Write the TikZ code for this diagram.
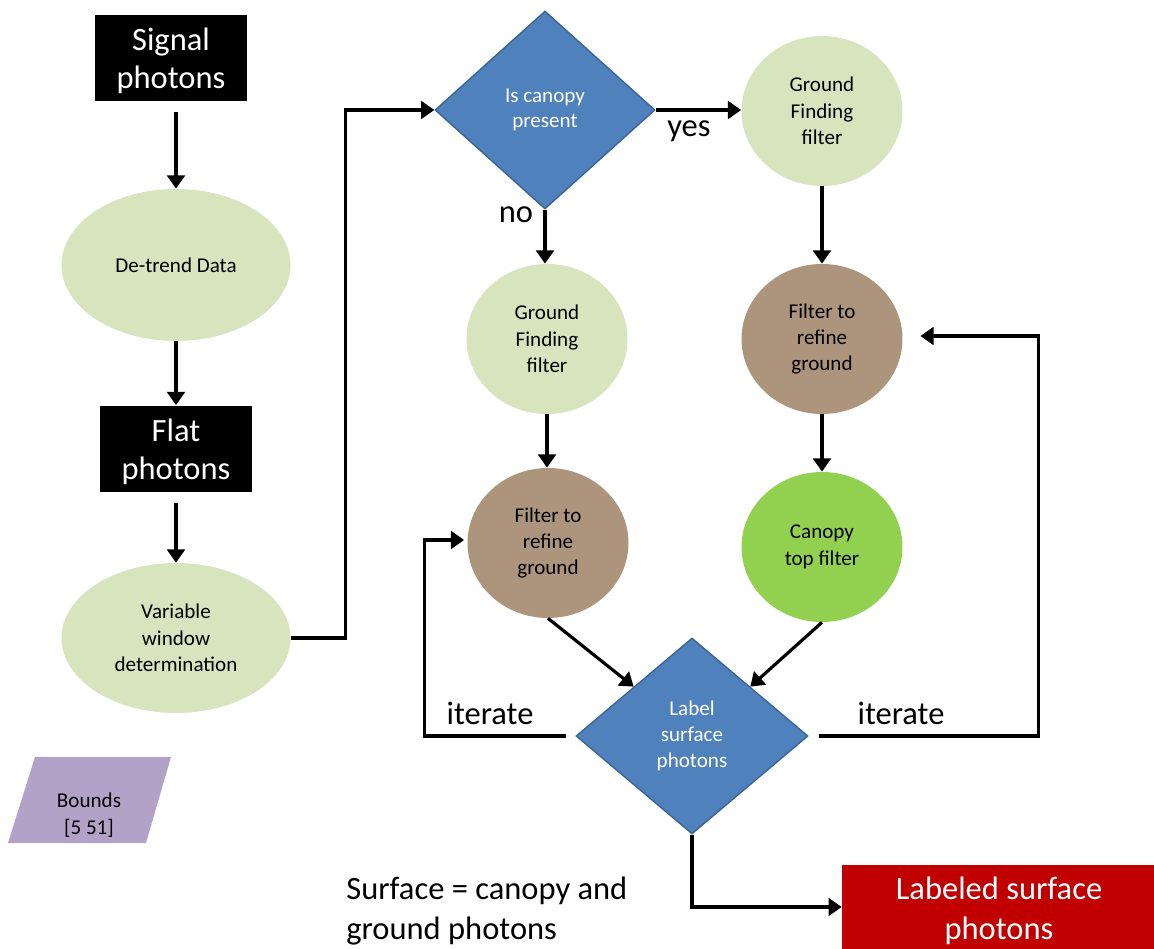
\documentclass[tikz,border=0pt]{standalone}
\usepackage{fontspec}
\setmainfont{Carlito}
\usetikzlibrary{shapes.geometric,arrows.meta,calc}
\definecolor{lgreen}{HTML}{D7E4BD}
\definecolor{tanbrown}{HTML}{AD957D}
\definecolor{bgreen}{HTML}{92D050}
\definecolor{dblue}{HTML}{4F81BD}
\definecolor{dblueb}{HTML}{3A6496}
\definecolor{lpurple}{HTML}{B3A2C7}
\definecolor{dred}{HTML}{C00000}
\tikzset{
  blackbox/.style={rectangle, fill=black, minimum width=3.04cm, minimum height=1.74cm, inner sep=0pt},
  boxtxt/.style={text=white, align=center, inner sep=0pt, font=\fontsize{18.5}{21.5}\selectfont},
  oval/.style={ellipse, fill=lgreen, inner sep=0pt, align=center, font=\fontsize{12}{15}\selectfont},
  circ/.style={ellipse, inner sep=0pt, minimum width=3.22cm, minimum height=3.0cm, align=center, font=\fontsize{12}{15}\selectfont},
  decide/.style={diamond, fill=dblue, draw=dblueb, line width=0.8pt, inner sep=0pt, text=white, align=center, font=\fontsize{12}{14.7}\selectfont},
  bigtxt/.style={font=\fontsize{18.5}{22.5}\selectfont, inner sep=0pt},
  arr/.style={line width=1.8pt, -{Triangle[length=7.5pt,width=10pt]}},
}
\begin{document}
\begin{tikzpicture}[x=0.02cm,y=-0.02cm]
\useasboundingbox (0,0) rectangle (1154,949);
% left column
\node[blackbox] (sig) at (171,58) {};
\node[boxtxt] (sigtxt) at (171,61) {Signal\\photons};
\node[oval, minimum width=4.58cm, minimum height=3.04cm] (detrend) at (176,265) {De-trend Data};
\node[blackbox, minimum width=3.06cm] (flat) at (176,449) {};
\node[boxtxt] (flattxt) at (176,452) {Flat\\photons};
\node[oval, minimum width=4.58cm, minimum height=3.0cm] (var) at (176,638) {Variable\\window\\determination};
% bounds parallelogram
\fill[lpurple] (35,757) -- (171,757) -- (146,843) -- (8,843) -- cycle;
\node[align=center, font=\fontsize{12}{15}\selectfont, inner sep=0pt] (bounds) at (89,815) {Bounds\\{}[5 51]};
% decisions and filters
\node[decide, minimum width=4.4cm, minimum height=3.96cm] (canopy) at (545,110) {Is canopy\\present};
\node[circ, fill=lgreen] (gfr) at (822,111) {Ground\\Finding\\filter};
\node[circ, fill=lgreen] (gfl) at (547,339) {Ground\\Finding\\filter};
\node[circ, fill=tanbrown] (ftrl) at (548,543) {Filter to\\refine\\ground};
\node[circ, fill=tanbrown] (ftrr) at (822,339) {Filter to\\refine\\ground};
\node[circ, fill=bgreen] (ctop) at (822,547) {Canopy\\top filter};
\node[decide, minimum width=4.64cm, minimum height=3.92cm] (label) at (692,736) {Label\\surface\\photons};
\node[rectangle, fill=dred, minimum width=6.24cm, minimum height=1.68cm, inner sep=0pt] (out) at (998,907) {};
\node[text=white, align=center, inner sep=0pt, font=\fontsize{18.5}{22.7}\selectfont] (outtxt) at (999,911) {Labeled surface\\photons};
% labels
\node[bigtxt] (yes) at (689,131) {yes};
\node[bigtxt] (no) at (516,215) {no};
\node[bigtxt] (itl) at (490,713) {iterate};
\node[bigtxt] (itr) at (901,713) {iterate};
\node[bigtxt, anchor=west, align=left] (surf) at (346,911) {Surface = canopy and\\ground photons};
% connectors
\draw[arr, shorten <=6pt] (sig.south -| detrend.north) -- (detrend.north);
\draw[arr] (detrend.south) -- (flat.north);
\draw[arr, shorten <=5.5pt] (flat.south) -- (var.north);
\draw[arr] (var.east) -- ++(55,0) |- (canopy.west);
\draw[arr] (canopy.east) -- (canopy.east -| gfr.west);
\draw[arr] (canopy.south) -- (canopy.south |- gfl.north);
\draw[arr] (gfl.south) -- (gfl.south |- ftrl.north);
\draw[arr] (gfr.south) -- (gfr.south |- ftrr.north);
\draw[arr] (ftrr.south) -- (ftrr.south |- ctop.north);
\draw[arr] (ftrl.south) -- (label.north west);
\draw[arr] (ctop.south) -- (label.north east);
\draw[arr, shorten <=5.5pt] (label.west) -- ++(-151,0) |- ($(ftrl.west)+(-3,-3)$);
\draw[arr, shorten <=6pt, shorten >=10pt] (label.east) -- ++(230,0) |- ($(ftrr.east)+(0,-3)$);
\draw[arr] (label.south) |- (out.west);
\end{tikzpicture}
\end{document}
